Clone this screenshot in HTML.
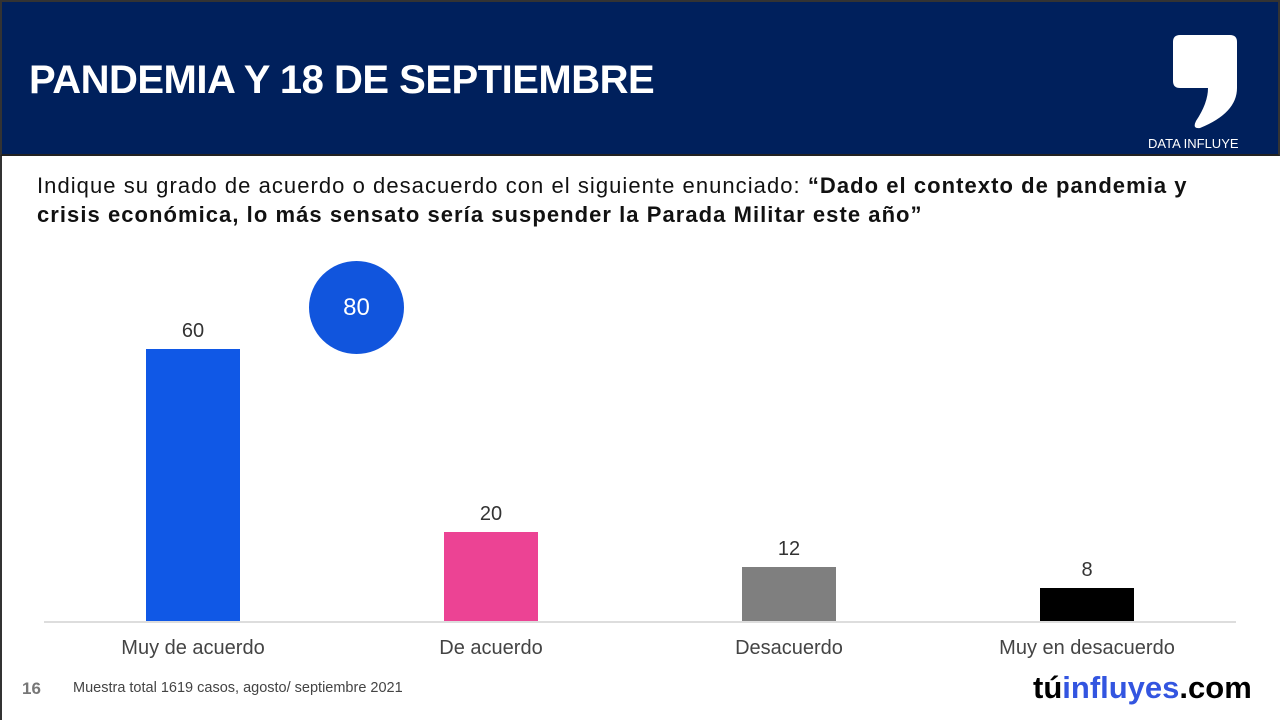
<!DOCTYPE html>
<html><head><meta charset="utf-8"><style>
*{margin:0;padding:0;box-sizing:border-box}
body{width:1280px;height:720px;position:relative;background:#fff;font-family:"Liberation Sans",sans-serif;overflow:hidden}
.a{position:absolute}
.hdr{left:0;top:0;width:1280px;height:156px;background:#00205c;border:2px solid #333;border-bottom:2px solid #222}
.lb{left:0;top:156px;width:2px;height:564px;background:#333}
.t{left:29px;top:58px;color:#fff;font-size:40px;font-weight:bold;letter-spacing:-0.5px}
.q{left:37px;top:171px;font-size:22px;line-height:29px;color:#111;white-space:nowrap;letter-spacing:1.05px}
.bar{position:absolute;width:94px}
.v{position:absolute;width:94px;text-align:center;font-size:20px;color:#333}
.c{position:absolute;width:298px;text-align:center;font-size:20px;color:#444;top:637px}
</style></head><body>
<div class="a hdr"></div>
<div class="a lb"></div>
<div class="a t">PANDEMIA Y 18 DE SEPTIEMBRE</div>
<svg class="a" style="left:1170px;top:33px" width="70" height="98" viewBox="0 0 70 98">
<path d="M10 2 H60 Q67 2 67 9 V55 Q67 80 30 95 Q22 96 26 88 Q38 70 38 55 H10 Q3 55 3 48 V9 Q3 2 10 2Z" fill="#fff"/></svg>
<div class="a" style="left:1148px;top:136px;color:#fff;font-size:13px">DATA INFLUYE</div>
<div class="a q">Indique su grado de acuerdo o desacuerdo con el siguiente enunciado: <b>“Dado el contexto de pandemia y<br>crisis económica, lo más sensato sería suspender la Parada Militar este año”</b></div>
<div class="a" style="left:309px;top:261px;width:95px;height:93px;border-radius:50%;background:#1155dd;color:#fff;font-size:24px;text-align:center;line-height:93px">80</div>
<div class="bar" style="left:146px;top:349px;height:273px;background:#1058e6"></div>
<div class="bar" style="left:444px;top:532px;height:90px;background:#ec4394"></div>
<div class="bar" style="left:742px;top:567px;height:55px;background:#7f7f7f"></div>
<div class="bar" style="left:1040px;top:588px;height:34px;background:#000"></div>
<div class="v" style="left:146px;top:320px">60</div>
<div class="v" style="left:444px;top:503px">20</div>
<div class="v" style="left:742px;top:538px">12</div>
<div class="v" style="left:1040px;top:559px">8</div>
<div class="a" style="left:44px;top:621px;width:1192px;height:2px;background:#ddd"></div>
<div class="c" style="left:44px">Muy de acuerdo</div>
<div class="c" style="left:342px">De acuerdo</div>
<div class="c" style="left:640px">Desacuerdo</div>
<div class="c" style="left:938px">Muy en desacuerdo</div>
<div class="a" style="left:22px;top:679px;font-size:17px;font-weight:bold;color:#777">16</div>
<div class="a" style="left:73px;top:680px;font-size:14.5px;color:#444">Muestra total 1619 casos, agosto/ septiembre 2021</div>
<div class="a" style="left:1033px;top:670px;font-size:31px;font-weight:bold;letter-spacing:0px;color:#000">tú<span style="color:#3355e0">influyes</span>.com</div>
</body></html>
